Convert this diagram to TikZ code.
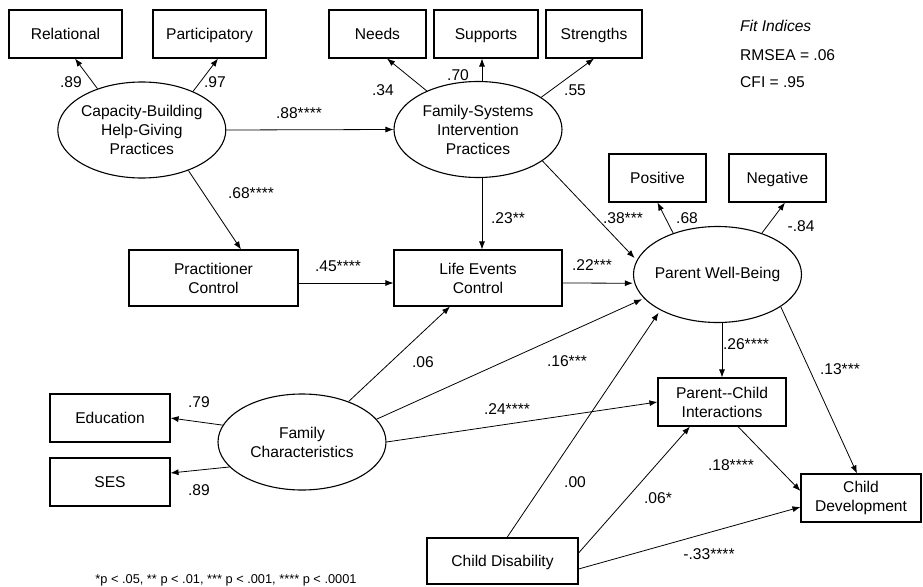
\documentclass[tikz,border=0pt]{standalone}
\usepackage{fontspec}
\setmainfont{Liberation Sans}
\usetikzlibrary{arrows.meta,shapes.geometric}
\begin{document}
\begin{tikzpicture}[x=1pt,y=-1pt,
  every node/.style={font=\fontsize{15.6}{19}\selectfont},
  box/.style={draw,line width=1.1pt,inner sep=0pt,align=center,minimum height=48},
  onebox/.style={box,text height=11.3pt,text depth=0pt},
  lat/.style={ellipse,draw,line width=1.1pt,inner sep=0pt,minimum width=168,minimum height=96},
  lattext/.style={align=center,inner sep=0pt},
  conn/.style={-{Latex[length=8pt,width=6pt]},line width=0.8pt},
  lbl/.style={inner sep=0pt},
  fit/.style={anchor=base west,inner sep=0pt}]
\useasboundingbox (0,0) rectangle (923,586);

% boxes
\node[onebox,minimum width=113] (rel) at (65.5,34) {Relational};
\node[onebox,minimum width=113] (part) at (209.5,34) {Participatory};
\node[onebox,minimum width=97] (needs) at (377.5,34) {Needs};
\node[onebox,minimum width=104] (sup) at (486,34) {Supports};
\node[onebox,minimum width=96] (str) at (594,34) {Strengths};
\node[box,minimum width=169,minimum height=56] (prac) at (213.5,278) {Practitioner\\Control};
\node[box,minimum width=168,minimum height=56] (le) at (478,278) {Life Events\\Control};
\node[onebox,minimum width=97] (pos) at (657.5,178) {Positive};
\node[onebox,minimum width=97] (neg) at (777.5,178) {Negative};
\node[box,minimum width=128] (pc) at (722,402) {Parent-{}-Child\\Interactions};
\node[box,minimum width=120] (cd) at (861,498) {Child\\Development};
\node[onebox,minimum width=151,minimum height=46] (dis) at (502.5,561) {Child Disability};
\node[onebox,minimum width=120] (edu) at (110,418) {Education};
\node[onebox,minimum width=120] (ses) at (110,482) {SES};

% latent variables
\node[lat] (cap) at (141.8,130) {};
\node[lattext] (capt) at (cap) {Capacity-Building\\Help-Giving\\Practices};
\node[lat] (fs) at (478,129.5) {};
\node[lattext] (fst) at (fs) {Family-Systems\\Intervention\\Practices};
\node[lat] (pwb) at (717.5,274.5) {};
\node[lattext] (pwbt) at (pwb) {Parent Well-Being};
\node[lat] (fc) at (302,442) {};
\node[lattext] (fct) at (fc) {Family\\Characteristics};

% connectors
\draw[conn] (cap.137.5) -- ([xshift=9.5pt]rel.south);
\draw[conn] (cap.37.5) -- ([xshift=8.5pt]part.south);
\draw[conn] (cap.east) -- (fs.west);
\draw[conn] (cap.-41.5) -- ([xshift=27.5pt]prac.north);
\draw[conn] ([yshift=-5pt]prac.east) -- ([yshift=-5pt]le.west);
\draw[conn] (fs.143) -- ([xshift=9.5pt]needs.south);
\draw[conn] ([xshift=4pt]fs.north) -- ([xshift=-4pt]sup.south);
\draw[conn] (fs.27.3) -- (str.south);
\draw[conn] ([xshift=4pt]fs.south) -- ([xshift=4pt]le.north);
\draw[conn,shorten >=3pt] (fs.-26.2) -- (pwb.170.5);
\draw[conn,shorten >=1.5pt] ([yshift=-5pt]le.east) -- (pwb.-174.1);
\draw[conn] (pwb.137) -- (pos.south);
\draw[conn] (pwb.43) -- ([xshift=7.5pt]neg.south);
\draw[conn] ([xshift=4.5pt]pwb.south) -- (pc.north);
\draw[conn] (pwb.-27.9) -- ([xshift=-4pt]cd.north);
\draw[conn] ([xshift=16pt]pc.south) -- ([yshift=7pt]cd.west);
\draw[conn,shorten >=3pt] ([xshift=4.5pt]dis.north) -- (pwb.-148.7);
\draw[conn] ([yshift=8pt]dis.east) -- ([xshift=-32pt]pc.south);
\draw[conn] ([yshift=-8pt]dis.east) -- ([yshift=-9pt]cd.west);
\draw[conn] (fc.41.7) -- ([xshift=-28pt]le.south);
\draw[conn,shorten >=2pt] (fc.17.5) -- (pwb.-162.9);
\draw[conn] (fc.east) -- (pc.west);
\draw[conn] (fc.168) -- (edu.east);
\draw[conn] (fc.-161.6) -- ([yshift=9pt]ses.east);

% coefficient labels
\node[lbl] (l1) at (71,82) {.89};
\node[lbl] (l2) at (215,82) {.97};
\node[lbl] (l3) at (299,113) {.88****};
\node[lbl] (l4) at (251,193) {.68****};
\node[lbl] (l5) at (338,266) {.45****};
\node[lbl] (l6) at (383,90) {.34};
\node[lbl] (l7) at (458,75) {.70};
\node[lbl] (l8) at (575,90) {.55};
\node[lbl] (l9) at (508,218) {.23**};
\node[lbl] (l10) at (623,218) {.38***};
\node[lbl] (l11) at (592,265) {.22***};
\node[lbl] (l12) at (687,218) {.68};
\node[lbl] (l13) at (801,226) {-.84};
\node[lbl] (l14) at (423,362) {.06};
\node[lbl] (l15) at (567,361) {.16***};
\node[lbl] (l16) at (507,409) {.24****};
\node[lbl] (l17) at (746,344) {.26****};
\node[lbl] (l18) at (840,369) {.13***};
\node[lbl] (l19) at (199,402) {.79};
\node[lbl] (l20) at (199,490) {.89};
\node[lbl] (l21) at (575,482) {.00};
\node[lbl] (l22) at (658,498) {.06*};
\node[lbl] (l23) at (731,465) {.18****};
\node[lbl] (l24) at (709,554) {-.33****};

% fit indices
\node[fit] (fit1) at (740,32) {\itshape Fit Indices};
\node[fit] (fit2) at (740,60) {RMSEA = .06};
\node[fit] (fit3) at (740,88) {CFI = .95};

% footnote
\node[inner sep=0pt,anchor=base,font=\fontsize{12.8}{15}\selectfont] (foot) at (226,583) {*p < .05, ** p < .01, *** p < .001, **** p < .0001};
\end{tikzpicture}
\end{document}
